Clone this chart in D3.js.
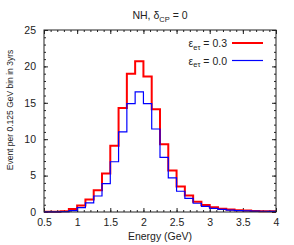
<!DOCTYPE html>
<html>
<head>
<meta charset="utf-8">
<script src="https://cdn.jsdelivr.net/npm/d3@7"></script>
<style>
  body { margin: 0; background: #fff; }
  text { font-family: "Liberation Sans", Arial, Helvetica, sans-serif; fill: #222; }
</style>
</head>
<body>
<div id="chart"></div>
<script>
// bin left edges (GeV), width 0.125
var binEdges = [0.5, 0.625, 0.75, 0.875, 1.0, 1.125, 1.25, 1.375, 1.5, 1.625, 1.75, 1.875, 2.0, 2.125,
                2.25, 2.375, 2.5, 2.625, 2.75, 2.875, 3.0, 3.125, 3.25, 3.375, 3.5, 3.625, 3.75, 3.875];
var eps03 = [0.02, 0.04, 0.12, 0.4, 0.88, 1.7, 3.0, 5.3, 9.1, 14.3, 19.0, 20.7, 18.6, 14.1,
             9.3, 5.7, 3.5, 2.25, 1.4, 0.96, 0.66, 0.46, 0.33, 0.25, 0.19, 0.15, 0.12, 0.1];
var eps00 = [0.01, 0.02, 0.06, 0.18, 0.6, 1.25, 2.2, 3.9, 6.9, 11.0, 14.9, 16.5, 14.9, 11.4,
             7.5, 4.7, 2.85, 1.88, 1.2, 0.78, 0.5, 0.36, 0.27, 0.2, 0.15, 0.12, 0.1, 0.08];
var binWidth = 0.125;
var xTicks = [0.5, 1, 1.5, 2, 2.5, 3, 3.5, 4];
var yTicks = [0, 5, 10, 15, 20, 25];

var W = 294, H = 245;
var margin = { top: 30, right: 18, bottom: 33, left: 44 };
var w = W - margin.left - margin.right;
var h = H - margin.top - margin.bottom;

var svg = d3.select("#chart").append("svg")
  .attr("width", W)
  .attr("height", H);

var g = svg.append("g").attr("transform", "translate(" + margin.left + "," + margin.top + ")");

var x = d3.scaleLinear().domain([0.5, 4]).range([0, w]);
var y = d3.scaleLinear().domain([0, 25]).range([h, 0]);

// minor ticks (inward, all four sides)
var xMinor = d3.range(0.5, 4.0001, 0.1);
var yMinor = d3.range(0, 25.0001, 1);
function tickAxis(axis, ticks, size) {
  return axis.tickValues(ticks).tickSize(size).tickFormat("");
}
g.append("g").attr("transform", "translate(0," + h + ")").call(tickAxis(d3.axisBottom(x), xMinor, -2));
g.append("g").call(tickAxis(d3.axisTop(x), xMinor, -2));
g.append("g").call(tickAxis(d3.axisLeft(y), yMinor, -2));
g.append("g").attr("transform", "translate(" + w + ",0)").call(tickAxis(d3.axisRight(y), yMinor, -2));

// major ticks
g.append("g").attr("transform", "translate(0," + h + ")")
  .call(d3.axisBottom(x).tickValues(xTicks).tickSize(-4).tickPadding(7).tickFormat(d3.format("")));
g.append("g").call(tickAxis(d3.axisTop(x), xTicks, -4));
g.append("g")
  .call(d3.axisLeft(y).tickValues(yTicks).tickSize(-4).tickPadding(8));
g.append("g").attr("transform", "translate(" + w + ",0)").call(tickAxis(d3.axisRight(y), yTicks, -4));

g.selectAll(".domain").remove();
g.selectAll(".tick line").attr("stroke", "#222");
g.selectAll(".tick text").style("font-size", "10.5px").style("fill", "#222");

// histogram steps
function stepPoints(vals) {
  var pts = vals.map(function(v, i) { return [binEdges[i], v]; });
  pts.push([binEdges[binEdges.length - 1] + binWidth, vals[vals.length - 1]]);
  return pts;
}
var line = d3.line()
  .x(function(d) { return x(d[0]); })
  .y(function(d) { return y(d[1]); })
  .curve(d3.curveStepAfter);

g.append("path").datum(stepPoints(eps03))
  .attr("d", line).attr("fill", "none").attr("stroke", "#ff0000").attr("stroke-width", 2);
g.append("path").datum(stepPoints(eps00))
  .attr("d", line).attr("fill", "none").attr("stroke", "#0000ff").attr("stroke-width", 1.2);

// frame
g.append("rect").attr("width", w).attr("height", h)
  .attr("fill", "none").attr("stroke", "#222").attr("stroke-width", 1);

// legend
var legend = [
  { label: "0.3", color: "#ff0000", sw: 2 },
  { label: "0.0", color: "#0000ff", sw: 1.2 }
];
legend.forEach(function(d, i) {
  var ly = 13 + i * 17.5;
  var t = g.append("text").attr("x", w - 49).attr("y", ly + 4)
    .attr("text-anchor", "end").style("font-size", "10.5px");
  t.append("tspan").text("\u03b5");
  t.append("tspan").attr("dy", 2.5).style("font-size", "7.5px").text("e\u03c4");
  t.append("tspan").attr("dy", -2.5).text(" = " + d.label);
  g.append("line").attr("x1", w - 44).attr("x2", w - 13).attr("y1", ly).attr("y2", ly)
    .attr("stroke", d.color).attr("stroke-width", d.sw);
});

// title
var title = svg.append("text").attr("x", margin.left + w / 2).attr("y", 19)
  .attr("text-anchor", "middle").style("font-size", "10.5px");
title.append("tspan").text("NH, \u03b4");
title.append("tspan").attr("dy", 2.5).style("font-size", "7.5px").text("CP");
title.append("tspan").attr("dy", -2.5).text(" = 0");

// axis labels
svg.append("text").attr("x", margin.left + w / 2).attr("y", 240)
  .attr("text-anchor", "middle").style("font-size", "10.5px").text("Energy (GeV)");
svg.append("text").attr("transform", "translate(13,110) rotate(-90)")
  .attr("text-anchor", "middle").style("font-size", "8.5px").text("Event per 0.125 GeV bin in 3yrs");
</script>
</body>
</html>
